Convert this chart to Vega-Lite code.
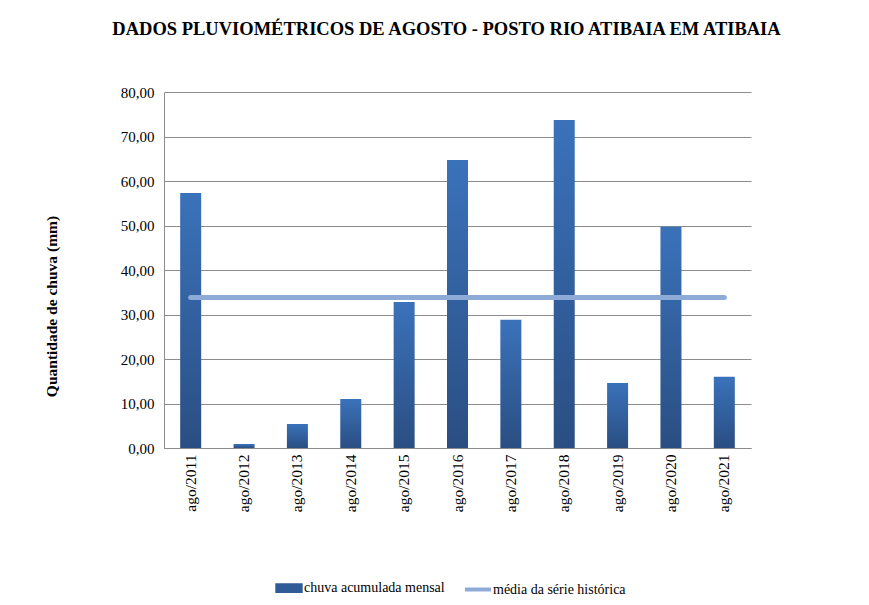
{
  "$schema": "https://vega.github.io/schema/vega-lite/v6.json",
  "width": 587,
  "height": 356,
  "padding": {"left": 44, "top": 19, "right": 10, "bottom": 5},
  "background": "white",
  "title": {
    "text": "DADOS PLUVIOMÉTRICOS DE AGOSTO - POSTO RIO ATIBAIA EM ATIBAIA",
    "font": "Liberation Serif",
    "fontSize": 18.5,
    "fontWeight": "bold",
    "color": "black",
    "offset": 47,
    "anchor": "middle",
    "dx": -11
  },
  "data": {
    "values": [
      {"mes": "ago/2011", "chuva": 57.3, "media": 33.8},
      {"mes": "ago/2012", "chuva": 0.9, "media": 33.8},
      {"mes": "ago/2013", "chuva": 5.4, "media": 33.8},
      {"mes": "ago/2014", "chuva": 11.0, "media": 33.8},
      {"mes": "ago/2015", "chuva": 32.8, "media": 33.8},
      {"mes": "ago/2016", "chuva": 64.7, "media": 33.8},
      {"mes": "ago/2017", "chuva": 28.8, "media": 33.8},
      {"mes": "ago/2018", "chuva": 73.7, "media": 33.8},
      {"mes": "ago/2019", "chuva": 14.6, "media": 33.8},
      {"mes": "ago/2020", "chuva": 49.7, "media": 33.8},
      {"mes": "ago/2021", "chuva": 16.0, "media": 33.8}
    ]
  },
  "encoding": {
    "x": {
      "field": "mes",
      "type": "nominal",
      "sort": null,
      "axis": {
        "title": null,
        "labelAngle": -90,
        "labelFont": "Liberation Serif",
        "labelFontSize": 15.5,
        "labelColor": "black",
        "labelPadding": 6,
        "ticks": false,
        "domainColor": "#8c8c8c"
      }
    }
  },
  "layer": [
    {
      "mark": {
        "type": "bar",
        "size": 21,
        "fill": {
          "gradient": "linear",
          "x1": 0, "y1": 1, "x2": 0, "y2": 0,
          "stops": [
            {"offset": 0, "color": "#2a4e82"},
            {"offset": 1, "color": "#3a72ba"}
          ]
        }
      },
      "encoding": {
        "y": {
          "field": "chuva",
          "type": "quantitative",
          "scale": {"domain": [0, 80], "nice": false},
          "axis": {
            "title": "Quantidade de chuva (mm)",
            "titleFont": "Liberation Serif",
            "titleFontSize": 15.5,
            "titleFontWeight": "bold",
            "titleColor": "black",
            "titlePadding": 61,
            "titleY": 214,
            "values": [0, 10, 20, 30, 40, 50, 60, 70, 80],
            "labelExpr": "replace(format(datum.value, '.2f'), '.', ',')",
            "labelFont": "Liberation Serif",
            "labelFontSize": 15,
            "labelColor": "black",
            "labelPadding": 10,
            "ticks": false,
            "domain": true,
            "domainColor": "#8c8c8c",
            "grid": true,
            "gridColor": "#8c8c8c",
            "gridOpacity": 1
          }
        }
      }
    },
    {
      "mark": {"type": "line", "strokeWidth": 5, "strokeCap": "round"},
      "encoding": {
        "y": {"field": "media", "type": "quantitative"},
        "color": {
          "datum": "média da série histórica",
          "type": "nominal",
          "scale": {
            "domain": ["chuva acumulada mensal", "média da série histórica"],
            "range": ["#2f5b97", "#8eaad7"]
          },
          "legend": {
            "title": null,
            "orient": "none",
            "direction": "horizontal",
            "legendX": 110,
            "legendY": 481,
            "labelFont": "Liberation Serif",
            "labelFontSize": 14,
            "labelColor": "black",
            "labelOffset": 0,
            "columnPadding": 12,
            "symbolSize": 676,
            "encode": {
              "symbols": {
                "update": {
                  "shape": {"signal": "datum.label == 'chuva acumulada mensal' ? 'M-0.9,-0.22H0.9V0.22H-0.9Z' : 'M-1,0H1'"},
                  "fill": {"signal": "datum.label == 'chuva acumulada mensal' ? '#2f5b97' : 'transparent'"},
                  "stroke": {"signal": "datum.label == 'chuva acumulada mensal' ? 'transparent' : '#8eaad7'"},
                  "strokeWidth": {"value": 4},
                  "opacity": {"value": 1}
                }
              }
            }
          }
        }
      }
    }
  ],
  "config": {
    "view": {"stroke": null},
    "font": "Liberation Serif",
    "legend": {"labelFont": "Liberation Serif", "labelFontSize": 14, "labelColor": "black"},
    "scale": {"bandPaddingInner": 0.6, "bandPaddingOuter": 0.3}
  }
}
